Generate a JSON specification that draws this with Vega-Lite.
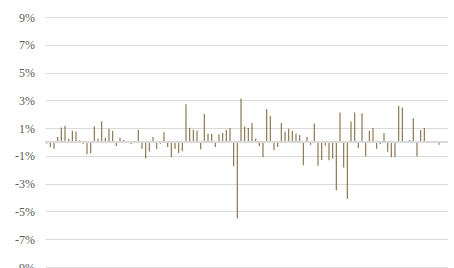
{
  "$schema": "https://vega.github.io/schema/vega-lite/v6.json",
  "autosize": {"type": "none"},
  "padding": {"left": 45.5, "top": 17, "right": 6.5, "bottom": 1},
  "width": 402,
  "height": 250,
  "background": "white",
  "config": {"view": {"stroke": null}},
  "data": {"values": [
    {"i": 0, "v": -0.1}, {"i": 1, "v": -0.36}, {"i": 2, "v": -0.48}, {"i": 3, "v": 0.36}, {"i": 4, "v": 1.05},
    {"i": 5, "v": 1.17}, {"i": 6, "v": 0.24}, {"i": 7, "v": 0.81}, {"i": 8, "v": 0.74}, {"i": 9, "v": 0.12},
    {"i": 10, "v": -0.12}, {"i": 11, "v": -0.88}, {"i": 12, "v": -0.81}, {"i": 13, "v": 1.12}, {"i": 14, "v": 0.26},
    {"i": 15, "v": 1.5}, {"i": 16, "v": 0.31}, {"i": 17, "v": 0.95}, {"i": 18, "v": 0.81}, {"i": 19, "v": -0.29},
    {"i": 20, "v": 0.31}, {"i": 21, "v": 0.14}, {"i": 22, "v": 0}, {"i": 23, "v": -0.15}, {"i": 24, "v": 0.05},
    {"i": 25, "v": 0.88}, {"i": 26, "v": -0.48}, {"i": 27, "v": -1.19}, {"i": 28, "v": -0.69}, {"i": 29, "v": 0.36},
    {"i": 30, "v": -0.48}, {"i": 31, "v": -0.12}, {"i": 32, "v": 0.71}, {"i": 33, "v": -0.36}, {"i": 34, "v": -1.08},
    {"i": 35, "v": -0.5}, {"i": 36, "v": -0.79}, {"i": 37, "v": -0.67}, {"i": 38, "v": 2.71}, {"i": 39, "v": 1.02},
    {"i": 40, "v": 0.88}, {"i": 41, "v": 0.81}, {"i": 42, "v": -0.52}, {"i": 43, "v": 2.02}, {"i": 44, "v": 0.6},
    {"i": 45, "v": 0.6}, {"i": 46, "v": -0.36}, {"i": 47, "v": 0.55}, {"i": 48, "v": 0.64}, {"i": 49, "v": 0.86},
    {"i": 50, "v": 1.0}, {"i": 51, "v": -1.74}, {"i": 52, "v": -5.5}, {"i": 53, "v": 3.14}, {"i": 54, "v": 1.12},
    {"i": 55, "v": 1.0}, {"i": 56, "v": 1.36}, {"i": 57, "v": 0.24}, {"i": 58, "v": -0.31}, {"i": 59, "v": -1.1},
    {"i": 60, "v": 2.38}, {"i": 61, "v": 1.88}, {"i": 62, "v": -0.6}, {"i": 63, "v": -0.36}, {"i": 64, "v": 1.36},
    {"i": 65, "v": 0.74}, {"i": 66, "v": 0.95}, {"i": 67, "v": 0.81}, {"i": 68, "v": 0.62}, {"i": 69, "v": 0.5},
    {"i": 70, "v": -1.67}, {"i": 71, "v": 0.36}, {"i": 72, "v": -0.2}, {"i": 73, "v": 1.33}, {"i": 74, "v": -1.71},
    {"i": 75, "v": -1.29}, {"i": 76, "v": -0.26}, {"i": 77, "v": -1.31}, {"i": 78, "v": -1.19}, {"i": 79, "v": -3.5},
    {"i": 80, "v": 2.12}, {"i": 81, "v": -1.83}, {"i": 82, "v": -4.1}, {"i": 83, "v": 1.48}, {"i": 84, "v": 2.12},
    {"i": 85, "v": -0.43}, {"i": 86, "v": 2.07}, {"i": 87, "v": -1.02}, {"i": 88, "v": 0.81}, {"i": 89, "v": 1.0},
    {"i": 90, "v": -0.48}, {"i": 91, "v": -0.14}, {"i": 92, "v": 0.64}, {"i": 93, "v": -0.71}, {"i": 94, "v": -1.1},
    {"i": 95, "v": -1.1}, {"i": 96, "v": 2.6}, {"i": 97, "v": 2.48}, {"i": 98, "v": 0.07}, {"i": 99, "v": 0.14},
    {"i": 100, "v": 1.71}, {"i": 101, "v": -1.02}, {"i": 102, "v": 0.86}, {"i": 103, "v": 1.0}, {"i": 104, "v": 0},
    {"i": 105, "v": 0}, {"i": 106, "v": 0}, {"i": 107, "v": -0.19}, {"i": 108, "v": 0}, {"i": 109, "v": 0}
  ]},
  "layer": [
    {
      "mark": {"type": "bar", "color": "#8a7550"},
      "encoding": {
        "x": {"field": "i", "type": "ordinal", "axis": null,
              "scale": {"paddingInner": 0.68, "paddingOuter": 0.16}},
        "y": {"field": "v", "type": "quantitative",
              "scale": {"domain": [-9, 9], "nice": false, "zero": false},
              "axis": {"title": null, "values": [-9, -7, -5, -3, -1, 1, 3, 5, 7, 9],
                       "tickCount": 20,
                       "labelExpr": "datum.value + '%'",
                       "labelOverlap": false, "labelBound": false, "labelFlush": false,
                       "domain": false, "ticks": false, "labelPadding": 11,
                       "grid": true, "gridColor": "#d9d9d9", "gridWidth": 1,
                       "labelFont": "Liberation Serif", "labelFontSize": 12, "labelColor": "#595959"}}
      }
    },
    {
      "mark": {"type": "rule", "color": "#d9d9d9", "strokeWidth": 1},
      "encoding": {"y": {"datum": 0, "type": "quantitative"}}
    }
  ]
}
